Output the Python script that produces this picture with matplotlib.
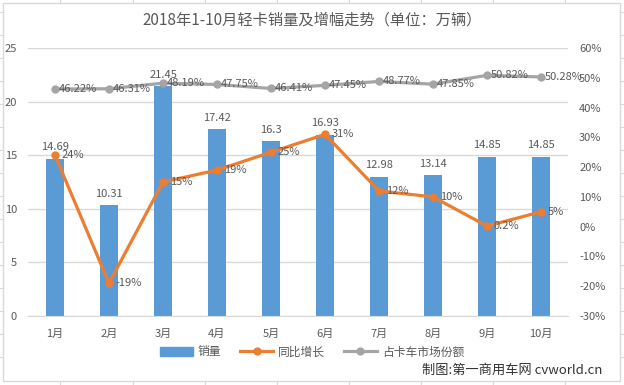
import matplotlib
matplotlib.use("Agg")
import matplotlib.pyplot as plt
from matplotlib.lines import Line2D
from matplotlib.patches import Rectangle

plt.rcParams['font.family'] = ['Noto Sans CJK SC', 'DejaVu Sans']

# Datos
meses = ["1月", "2月", "3月", "4月", "5月", "6月", "7月", "8月", "9月", "10月"]
ventas = [14.69, 10.31, 21.45, 17.42, 16.3, 16.93, 12.98, 13.14, 14.85, 14.85]
crecimiento = [24, -19, 15, 19, 25, 31, 12, 10, 0.2, 5]
crecimiento_txt = ["24%", "-19%", "15%", "19%", "25%", "31%", "12%", "10%", "0.2%", "5%"]
cuota = [46.22, 46.31, 48.19, 47.75, 46.41, 47.45, 48.77, 47.85, 50.82, 50.28]

azul = "#5B9BD5"
naranja = "#ED7D31"
gris = "#A5A5A5"
texto = "#595959"

fig = plt.figure(figsize=(6.24, 3.85), dpi=100)
fig.patch.set_facecolor("white")

# Borde del gráfico y líneas de celdas de la hoja
W, H = 624, 385
fig.patches.append(Rectangle((3 / W, 1 - 381 / H), 617 / W, 378 / H, transform=fig.transFigure,
                             fill=False, edgecolor="#D9D9D9", linewidth=1))
for xc in [60, 133, 205, 277, 349, 421, 493, 565]:
    fig.add_artist(Line2D([xc / W, xc / W], [1, 1 - 3 / H], color="#D9D9D9", lw=0.8))
    fig.add_artist(Line2D([xc / W, xc / W], [1 - 381 / H, 0], color="#D9D9D9", lw=0.8))
for yc in [12, 35, 58, 81, 104, 127, 150, 173, 196, 219, 242, 265, 288, 311, 334, 357]:
    fig.add_artist(Line2D([0, 3 / W], [1 - yc / H, 1 - yc / H], color="#D9D9D9", lw=0.8))
    fig.add_artist(Line2D([620 / W, 1], [1 - yc / H, 1 - yc / H], color="#D9D9D9", lw=0.8))

ax = fig.add_axes([28 / W, 1 - 316 / H, 540 / W, 268 / H])
ax2 = ax.twinx()

x = list(range(len(meses)))
ax.bar(x, ventas, width=0.32, color=azul, zorder=2)
ax.set_ylim(0, 25)
ax.set_yticks([0, 5, 10, 15, 20, 25])
ax.set_xlim(-0.5, len(meses) - 0.5)
ax.set_xticks(x)
ax.set_xticklabels(meses)
ax.yaxis.grid(True, color="#D9D9D9", linewidth=1)
ax.set_axisbelow(True)
for s in ["top", "right", "left"]:
    ax.spines[s].set_visible(False)
ax.spines["bottom"].set_color("#D9D9D9")
ax.tick_params(axis="both", length=0, labelsize=8, colors=texto)
ax.tick_params(axis="x", pad=9)
ax.tick_params(axis="y", pad=8)

for i, v in enumerate(ventas):
    ax.text(i, v + 0.6, f"{v:g}", ha="center", va="bottom", fontsize=8, color=texto, zorder=5)

ax2.plot(x, crecimiento, color=naranja, lw=2.3, marker="o", markersize=5, zorder=3)
ax2.plot(x, cuota, color=gris, lw=2.3, marker="o", markersize=5, zorder=3)
ax2.set_ylim(-30, 60)
ax2.set_yticks(range(-30, 61, 10))
ax2.set_yticklabels([f"{t}%" for t in range(-30, 61, 10)])
for s in ["top", "right", "left", "bottom"]:
    ax2.spines[s].set_visible(False)
ax2.tick_params(axis="y", length=0, labelsize=8, colors=texto, pad=8)

for i, (v, t) in enumerate(zip(crecimiento, crecimiento_txt)):
    ax2.annotate(t, (i, v), xytext=(5, 0), textcoords="offset points",
                 ha="left", va="center", fontsize=8, color=texto, zorder=6)
for i, v in enumerate(cuota):
    ax2.annotate(f"{v:.2f}%", (i, v), xytext=(3, 0), textcoords="offset points",
                 ha="left", va="center", fontsize=8, color=texto, zorder=6)

fig.text(0.5, 1 - 20 / H, "2018年1-10月轻卡销量及增幅走势（单位：万辆）",
         ha="center", va="center", fontsize=11, color=texto)

handles = [
    Rectangle((0, 0), 1, 1, color=azul),
    Line2D([], [], color=naranja, lw=2.3, marker="o", markersize=5),
    Line2D([], [], color=gris, lw=2.3, marker="o", markersize=5),
]
fig.legend(handles, ["销量", "同比增长", "占卡车市场份额"], loc="center",
           bbox_to_anchor=(0.5, 1 - 352 / H), ncol=3, frameon=False,
           fontsize=8.5, labelcolor=texto, handlelength=2.8, columnspacing=1.6, handletextpad=0.4)

fig.text(602 / W, 1 - 370 / H, "制图:第一商用车网 cvworld.cn", ha="right", va="center",
         fontsize=9.5, color="#333333")

fig.savefig("out.png", dpi=100)
